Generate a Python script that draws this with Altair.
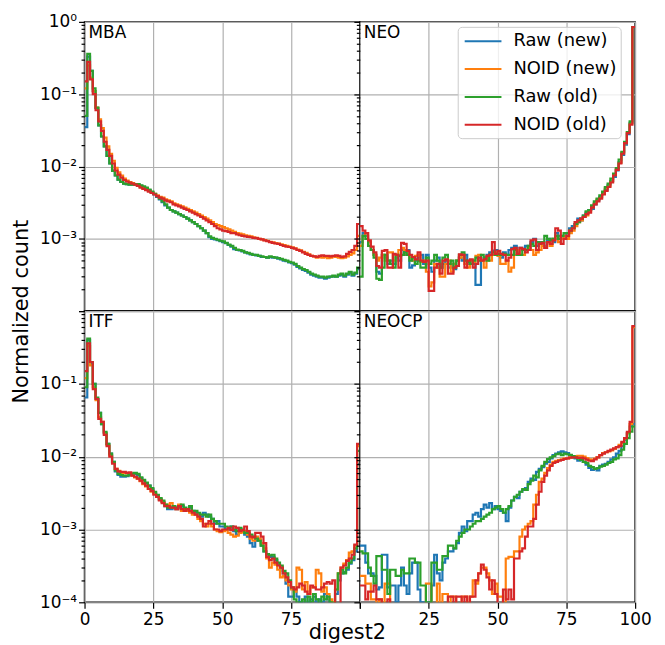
import altair as alt
import pandas as pd

SERIES = ["Raw (new)", "NOID (new)", "Raw (old)", "NOID (old)"]
COLORS = ["#1f77b4", "#ff7f0e", "#2ca02c", "#d62728"]
X_TICKS = [0, 25, 50, 75, 100]
Y_MAJOR = [1e-4, 1e-3, 1e-2, 1e-1, 1.0]
Y_MINOR = [2e-4, 3e-4, 4e-4, 5e-4, 6e-4, 7e-4, 8e-4, 9e-4,
           2e-3, 3e-3, 4e-3, 5e-3, 6e-3, 7e-3, 8e-3, 9e-3,
           2e-2, 3e-2, 4e-2, 5e-2, 6e-2, 7e-2, 8e-2, 9e-2,
           0.2, 0.3, 0.4, 0.5, 0.6, 0.7, 0.8, 0.9]

# ---------------- MBA ----------------
MBA_RAW_NEW = [0.035, 0.33, 0.21, 0.11, 0.064, 0.037, 0.026, 0.019, 0.014, 0.011,
               0.0088, 0.0075, 0.0066, 0.0061, 0.0058, 0.0057, 0.0056, 0.0056, 0.0056, 0.0056,
               0.0054, 0.0052, 0.0050, 0.0047, 0.0044, 0.0041, 0.0038, 0.0035, 0.0032, 0.0029,
               0.0027, 0.0025, 0.0024, 0.0023, 0.0022, 0.0021, 0.0020, 0.0019, 0.0018, 0.0017,
               0.0016, 0.0015, 0.0014, 0.0013, 0.0012, 0.00105, 0.001, 0.00098, 0.00096, 0.00093,
               0.0009, 0.00087, 0.00082, 0.00078, 0.00072, 0.0007, 0.00069, 0.00067, 0.00065, 0.00063,
               0.00061, 0.0006, 0.00059, 0.00058, 0.00056, 0.00056, 0.00055, 0.00056, 0.00055, 0.00055,
               0.00053, 0.00052, 0.0005, 0.00049, 0.00047, 0.00046, 0.00044, 0.00041, 0.00039, 0.00037,
               0.00036, 0.00034, 0.00032, 0.00031, 0.0003, 0.00029, 0.00029, 0.00028, 0.00029, 0.0003,
               0.0003, 0.0003, 0.00031, 0.00032, 0.0003, 0.00032, 0.00034, 0.00031, 0.00033, 0.00038]
MBA_NOID_NEW = [0.12, 0.25, 0.17, 0.11, 0.065, 0.045, 0.034, 0.025, 0.019, 0.015,
                0.012, 0.0096, 0.0083, 0.0075, 0.0068, 0.0064, 0.0061, 0.0059, 0.0057, 0.0055,
                0.0052, 0.0050, 0.0048, 0.0046, 0.0044, 0.0042, 0.0040, 0.0038, 0.0037, 0.0035,
                0.0034, 0.0033, 0.0031, 0.0030, 0.0029, 0.0028, 0.0027, 0.0026, 0.0025, 0.0024,
                0.0023, 0.0022, 0.0021, 0.0020, 0.0019, 0.0018, 0.0017, 0.0016, 0.00155, 0.0015,
                0.00145, 0.0014, 0.00135, 0.0013, 0.00125, 0.0012, 0.00118, 0.00115, 0.00112, 0.0011,
                0.00108, 0.00105, 0.00103, 0.001, 0.00098, 0.00096, 0.00094, 0.00091, 0.00089, 0.00087,
                0.00086, 0.00084, 0.00082, 0.0008, 0.00078, 0.00076, 0.00074, 0.00071, 0.00069, 0.00066,
                0.00064, 0.00061, 0.00058, 0.00057, 0.00055, 0.00056, 0.00055, 0.00056, 0.00054, 0.00055,
                0.00057, 0.00056, 0.00055, 0.00054, 0.00055, 0.00057, 0.0006, 0.00063, 0.0007, 0.0011]
MBA_RAW_OLD = [0.05, 0.36, 0.21, 0.12, 0.065, 0.037, 0.026, 0.019, 0.014, 0.011,
               0.0087, 0.0075, 0.0066, 0.0061, 0.0058, 0.0057, 0.0056, 0.0056, 0.0057, 0.0057,
               0.0055, 0.0053, 0.0051, 0.0048, 0.0045, 0.0042, 0.0039, 0.0036, 0.0033, 0.0030,
               0.0027, 0.0025, 0.0024, 0.0023, 0.0022, 0.0021, 0.0020, 0.0019, 0.0018, 0.0017,
               0.0016, 0.0015, 0.0014, 0.0013, 0.0012, 0.00108, 0.00103, 0.001, 0.00097, 0.00094,
               0.00092, 0.00088, 0.00083, 0.0008, 0.00075, 0.00071, 0.0007, 0.00068, 0.00065, 0.00064,
               0.00062, 0.0006, 0.0006, 0.00058, 0.00057, 0.00056, 0.00055, 0.00057, 0.00056, 0.00055,
               0.00054, 0.00053, 0.00051, 0.0005, 0.00048, 0.00047, 0.00045, 0.00042, 0.0004, 0.00038,
               0.00037, 0.00035, 0.00033, 0.00032, 0.00031, 0.0003, 0.0003, 0.00029, 0.0003, 0.0003,
               0.00031, 0.0003, 0.00032, 0.00033, 0.00031, 0.00033, 0.00035, 0.00032, 0.00034, 0.0004]
MBA_NOID_OLD = [0.15, 0.28, 0.16, 0.10, 0.060, 0.042, 0.031, 0.022, 0.017, 0.014,
                0.011, 0.0088, 0.0077, 0.0070, 0.0065, 0.0062, 0.0060, 0.0058, 0.0056, 0.0054,
                0.0051, 0.0049, 0.0047, 0.0045, 0.0043, 0.0041, 0.0039, 0.0037, 0.0036, 0.0034,
                0.0033, 0.0032, 0.0030, 0.0029, 0.0028, 0.0027, 0.0026, 0.0025, 0.0024, 0.0023,
                0.0022, 0.0021, 0.0020, 0.0019, 0.0018, 0.0017, 0.0016, 0.0015, 0.0014, 0.00135,
                0.0013, 0.00128, 0.00125, 0.0012, 0.0012, 0.00115, 0.00112, 0.0011, 0.00108, 0.00106,
                0.00105, 0.00103, 0.00102, 0.001, 0.00098, 0.00095, 0.00093, 0.0009, 0.00088, 0.00086,
                0.00085, 0.00082, 0.0008, 0.00078, 0.00077, 0.00075, 0.00073, 0.0007, 0.00068, 0.00065,
                0.00062, 0.0006, 0.00058, 0.00057, 0.00056, 0.00058, 0.00059, 0.00058, 0.00058, 0.00057,
                0.00058, 0.00059, 0.00058, 0.00056, 0.00057, 0.00062, 0.00066, 0.0007, 0.0008, 0.0016]

# ---------------- NEO ----------------
NEO_RAW_NEW = [0.0009, 0.0012, 0.0011, 0.0009, 0.0007, 0.0006, 0.00035, 0.00033, 0.0006, 0.00055,
               0.00045, 0.0005, 0.00045, 0.00055, 0.0005, 0.0007, 0.0006, 0.0007, 0.0004, 0.00043,
               0.0005, 0.00055, 0.0006, 0.00045, 0.0006, 0.0004, 0.00035, 0.0005, 0.00055, 0.0004,
               0.00045, 0.0005, 0.0004, 0.00045, 0.00038, 0.0005, 0.00055, 0.0005, 0.0006, 0.00045,
               0.0005, 0.00045, 0.00023, 0.00023, 0.0005, 0.00055, 0.0006, 0.00065, 0.00068, 0.0007,
               0.0006, 0.00055, 0.00065, 0.0006, 0.0007, 0.00075, 0.0008, 0.00065, 0.00075, 0.0007,
               0.0008, 0.00075, 0.0009, 0.001, 0.0008, 0.0009, 0.0009, 0.0008, 0.00095, 0.001,
               0.0009, 0.0012, 0.0011, 0.001, 0.0011, 0.0012, 0.0014, 0.0015, 0.0016, 0.0019,
               0.0018, 0.0021, 0.0023, 0.0025, 0.0026, 0.003, 0.0034, 0.0038, 0.0042, 0.0048,
               0.0055, 0.0063, 0.0072, 0.0088, 0.0115, 0.0145, 0.02, 0.028, 0.04, 0.85]
NEO_NOID_NEW = [0.0008, 0.0011, 0.0012, 0.0009, 0.0007, 0.0006, 0.0005, 0.00055, 0.0006, 0.0005,
                0.00065, 0.00065, 0.0005, 0.0006, 0.0007, 0.00075, 0.0007, 0.0006, 0.00055, 0.0005,
                0.00058, 0.0006, 0.00048, 0.0005, 0.00035, 0.00022, 0.00025, 0.00045, 0.0004, 0.0003,
                0.0003, 0.00045, 0.0005, 0.00035, 0.00045, 0.0005, 0.00055, 0.0006, 0.00045, 0.0004,
                0.0005, 0.00048, 0.00058, 0.0006, 0.0005, 0.0004, 0.00055, 0.0005, 0.0006, 0.00065,
                0.00058, 0.00045, 0.00045, 0.0005, 0.00035, 0.0004, 0.0006, 0.0007, 0.0006, 0.0006,
                0.0007, 0.00075, 0.0007, 0.0006, 0.00065, 0.0007, 0.0008, 0.00075, 0.0009, 0.0008,
                0.001, 0.0011, 0.0009, 0.001, 0.0011, 0.001, 0.0012, 0.0013, 0.0015, 0.0017,
                0.0018, 0.002, 0.0021, 0.0024, 0.0028, 0.0031, 0.0035, 0.0037, 0.0043, 0.005,
                0.0053, 0.0062, 0.0078, 0.0092, 0.0112, 0.0155, 0.021, 0.03, 0.039, 0.85]
NEO_RAW_OLD = [0.0003, 0.0011, 0.001, 0.0008, 0.0007, 0.00055, 0.00028, 0.00027, 0.0004, 0.0006,
               0.0005, 0.00045, 0.0004, 0.0006, 0.00058, 0.0006, 0.00065, 0.0006, 0.0005, 0.00055,
               0.00045, 0.0005, 0.0004, 0.0004, 0.00055, 0.00045, 0.0005, 0.0006, 0.0005, 0.0004,
               0.00055, 0.0006, 0.00045, 0.0005, 0.0004, 0.0005, 0.0006, 0.00065, 0.0005, 0.00048,
               0.00045, 0.0005, 0.00055, 0.0005, 0.0006, 0.00055, 0.0005, 0.0006, 0.00065, 0.0006,
               0.00062, 0.0006, 0.00062, 0.0006, 0.0006, 0.0006, 0.0007, 0.0006, 0.0006, 0.0007,
               0.0007, 0.0008, 0.00085, 0.0008, 0.0009, 0.00085, 0.0009, 0.0011, 0.001, 0.00095,
               0.001, 0.0011, 0.001, 0.0011, 0.0012, 0.0012, 0.0013, 0.0014, 0.0016, 0.0017,
               0.0019, 0.0021, 0.0024, 0.0025, 0.0029, 0.0033, 0.0036, 0.004, 0.0045, 0.0052,
               0.0058, 0.0068, 0.008, 0.0095, 0.0125, 0.016, 0.022, 0.03, 0.042, 0.85]
NEO_NOID_OLD = [0.0015, 0.0013, 0.0012, 0.00095, 0.00078, 0.00065, 0.00042, 0.0004, 0.00068, 0.0007,
                0.0004, 0.0004, 0.00062, 0.0006, 0.0004, 0.00088, 0.00085, 0.00068, 0.0006, 0.00056,
                0.00052, 0.00065, 0.0005, 0.00048, 0.0005, 0.00019, 0.00019, 0.0004, 0.00045, 0.00033,
                0.0005, 0.00052, 0.00033, 0.00033, 0.0004, 0.00042, 0.00061, 0.0006, 0.0004, 0.0005,
                0.00052, 0.0004, 0.00045, 0.00055, 0.0005, 0.00052, 0.00058, 0.0006, 0.0009, 0.00062,
                0.00068, 0.00062, 0.0006, 0.0005, 0.00055, 0.00072, 0.00075, 0.00062, 0.00075, 0.00072,
                0.00065, 0.0007, 0.00095, 0.00098, 0.0007, 0.00085, 0.00088, 0.00075, 0.0009, 0.00085,
                0.00095, 0.0014, 0.0013, 0.00085, 0.001, 0.0011, 0.0013, 0.0014, 0.0017, 0.0018,
                0.0019, 0.002, 0.0022, 0.0023, 0.0027, 0.003, 0.0033, 0.0036, 0.0041, 0.0046,
                0.0052, 0.006, 0.0075, 0.009, 0.011, 0.015, 0.021, 0.029, 0.038, 0.85]

# ---------------- ITF ----------------
ITF_RAW_NEW = [0.065, 0.4, 0.19, 0.1, 0.062, 0.04, 0.028, 0.021, 0.015, 0.011,
               0.0085, 0.0063, 0.0056, 0.0053, 0.0053, 0.0054, 0.0056, 0.0058, 0.0058, 0.0056,
               0.0051, 0.0047, 0.0043, 0.004, 0.0036, 0.0032, 0.0029, 0.0026, 0.0024, 0.0021,
               0.0019, 0.0019, 0.002, 0.0019, 0.002, 0.0021, 0.0019, 0.0018, 0.002, 0.0018,
               0.0017, 0.0016, 0.0015, 0.0017, 0.0016, 0.0015, 0.0014, 0.0012, 0.0013, 0.0011,
               0.0011, 0.001, 0.001, 0.0011, 0.00095, 0.00085, 0.001, 0.00095, 0.00085, 0.0008,
               0.00065, 0.00058, 0.0007, 0.00072, 0.0006, 0.0005, 0.00045, 0.00042, 0.00042, 0.00038,
               0.00033, 0.0003, 0.00025, 0.00018, 0.00012, 0.00012, 0.00015, 0.00012, 0.0001, 0.00009,
               0.00012, 0.0001, 0.00011, 0.00012, 0.00009, 0.00011, 0.0001, 0.00013, 0.00011, 0.00009,
               0.0001, 0.00013, 0.0002, 0.00025, 0.00026, 0.00028, 0.00034, 0.00038, 0.0005, 0.008]
ITF_NOID_NEW = [0.12, 0.33, 0.18, 0.09, 0.06, 0.035, 0.03, 0.021, 0.0145, 0.0105,
                0.0082, 0.0068, 0.0064, 0.006, 0.006, 0.0059, 0.0058, 0.0055, 0.0052, 0.005,
                0.0046, 0.0042, 0.0039, 0.0036, 0.0033, 0.0031, 0.0028, 0.0026, 0.0024, 0.0022,
                0.0022, 0.0023, 0.002, 0.0019, 0.0022, 0.0018, 0.0019, 0.0018, 0.0017, 0.0016,
                0.0016, 0.0014, 0.0013, 0.0012, 0.0011, 0.0012, 0.0011, 0.001, 0.00095, 0.00092,
                0.00095, 0.00098, 0.0009, 0.00085, 0.0008, 0.00082, 0.0009, 0.00092, 0.00095, 0.00085,
                0.00075, 0.0007, 0.0008, 0.00075, 0.00065, 0.00055, 0.0004, 0.0003, 0.00035, 0.00033,
                0.00028, 0.00022, 0.00023, 0.0002, 0.00017, 0.00015, 0.00014, 0.0003, 0.00028, 0.00015,
                0.00019, 0.00013, 0.00016, 0.00016, 0.00028, 0.00025, 0.00014, 0.00016, 0.00013, 0.00011,
                0.0001, 0.00015, 0.00025, 0.0003, 0.00034, 0.00038, 0.00048, 0.0005, 0.0006, 0.014]
ITF_RAW_OLD = [0.09, 0.42, 0.2, 0.1, 0.065, 0.04, 0.028, 0.022, 0.015, 0.011,
               0.0085, 0.0065, 0.0058, 0.0056, 0.0055, 0.0055, 0.0057, 0.0059, 0.006, 0.0058,
               0.0052, 0.0048, 0.0044, 0.004, 0.0037, 0.0033, 0.003, 0.0027, 0.0025, 0.0022,
               0.002, 0.002, 0.0021, 0.002, 0.0021, 0.0022, 0.002, 0.0019, 0.0021, 0.0018,
               0.0018, 0.0017, 0.0016, 0.0016, 0.0015, 0.0016, 0.0014, 0.0013, 0.0012, 0.0012,
               0.0012, 0.0011, 0.00105, 0.0011, 0.001, 0.00095, 0.00105, 0.001, 0.0009, 0.0009,
               0.00085, 0.0008, 0.00075, 0.0007, 0.0006, 0.0005, 0.00046, 0.00044, 0.00045, 0.0004,
               0.00035, 0.00032, 0.00027, 0.00025, 0.0002, 0.00016, 0.00011, 0.00009, 0.0001, 0.00011,
               0.00009, 0.00012, 0.0001, 0.00013, 0.00011, 0.00009, 0.00012, 0.00011, 0.00012, 0.0001,
               0.00008, 0.00015, 0.00025, 0.00028, 0.00025, 0.0003, 0.00035, 0.0004, 0.00055, 0.012]
ITF_NOID_OLD = [0.15, 0.36, 0.2, 0.085, 0.062, 0.033, 0.03, 0.02, 0.014, 0.01,
                0.008, 0.0068, 0.0063, 0.0062, 0.0062, 0.006, 0.0061, 0.0055, 0.0053, 0.005,
                0.0047, 0.0043, 0.004, 0.0036, 0.0034, 0.003, 0.0028, 0.0025, 0.0023, 0.0021,
                0.0021, 0.002, 0.002, 0.0019, 0.0021, 0.0019, 0.0018, 0.0019, 0.0018, 0.0017,
                0.0016, 0.0015, 0.0014, 0.0011, 0.0012, 0.0013, 0.0012, 0.001, 0.001, 0.00095,
                0.001, 0.001, 0.00105, 0.00098, 0.0011, 0.00105, 0.00095, 0.00098, 0.0011, 0.00095,
                0.0008, 0.00078, 0.0009, 0.0009, 0.0008, 0.00065, 0.00042, 0.00038, 0.0004, 0.00035,
                0.00032, 0.0003, 0.00025, 0.00022, 0.00019, 0.00016, 0.00015, 0.00016, 0.00018, 0.00017,
                0.00014, 0.00013, 0.00017, 0.00016, 0.00015, 0.00015, 0.00016, 0.00018, 0.00019, 0.00018,
                0.0002, 0.00007, 0.00009, 0.0003, 0.00032, 0.00037, 0.0004, 0.00045, 0.00062, 0.015]

# ---------------- NEOCP ----------------
NEOCP_RAW_NEW = [0.0006, 0.0006, 0.00035, 0.00025, 0.00025, 0.00023, 0.00015, 0.00016, 0.00045, 0.00045,
                 0.00016, 0.00017, 0.00017, 0.0001, 0.00017, 0.0003, 0.00017, 0.00013, 0.00025, 0.00035,
                 0.00035, 0.00015, 0.0001, 0.0001, 0, 0.0001, 0.00017, 0.00045, 0.00025, 0.0002,
                 0.00035, 0.0004, 0.0005, 0.0005, 0.00055, 0.00065, 0.0009, 0.0011, 0.00095, 0.0013,
                 0.0013, 0.0016, 0.0017, 0.0015, 0.0019, 0.0022, 0.002, 0.0023, 0.0019, 0.0021,
                 0.0019, 0.0018, 0.0017, 0.0013, 0.002, 0.0025, 0.0028, 0.0027, 0.0033, 0.0035,
                 0.0037, 0.0045, 0.005, 0.0048, 0.0062, 0.0068, 0.0072, 0.008, 0.0085, 0.0095,
                 0.0105, 0.011, 0.0115, 0.0118, 0.0115, 0.0112, 0.0105, 0.0098, 0.0095, 0.0088,
                 0.0092, 0.0085, 0.0078, 0.007, 0.0066, 0.0068, 0.0065, 0.0075, 0.0078, 0.008,
                 0.0085, 0.0092, 0.0098, 0.011, 0.012, 0.014, 0.017, 0.021, 0.026, 0.028]
NEOCP_NOID_NEW = [0.00023, 0.00023, 0.00018, 0.00018, 0.00011, 0.00011, 0, 0.00011, 0, 0.00018,
                  0.00018, 0, 0, 0, 0, 0, 0, 0, 0, 0,
                  0, 0, 0, 0, 0.00018, 0.00018, 0, 0, 0.00018, 0,
                  0.00013, 0.00013, 0, 0.00012, 0.00012, 0, 0, 0.00012, 0.00012, 0,
                  0.00012, 0.0002, 0.00018, 0.00025, 0.0003, 0.0003, 0.00025, 0.0002, 0.00013, 0.00018,
                  0.00012, 0.00012, 0, 0.0004, 0.00042, 0.00042, 0.0005, 0.0005, 0.0008, 0.001,
                  0.0011, 0.0012, 0.0013, 0.0022, 0.003, 0.0045, 0.005, 0.006, 0.007, 0.0078,
                  0.0085, 0.0088, 0.009, 0.0092, 0.0095, 0.0095, 0.0098, 0.01, 0.0102, 0.0103,
                  0.0103, 0.01, 0.0096, 0.0092, 0.009, 0.0094, 0.0098, 0.0105, 0.0112, 0.0115,
                  0.0118, 0.0122, 0.0128, 0.0135, 0.0145, 0.0155, 0.0175, 0.021, 0.028, 0.6]
NEOCP_RAW_OLD = [0.0005, 0.00047, 0.00047, 0.0003, 0.00023, 0.00018, 0.00043, 0.00043, 0.00028, 0.00028,
                 0.00013, 0.00028, 0.00028, 0.00023, 0.00023, 0.00028, 0.00025, 0.00025, 0.0004, 0.0004,
                 0.00035, 0.00035, 0.00017, 0.00017, 0, 0.0001, 0.00035, 0.00035, 0.00028, 0.00028,
                 0.00043, 0.00043, 0.0006, 0.0006, 0.00055, 0.0007, 0.0008, 0.0009, 0.001, 0.001,
                 0.0011, 0.0012, 0.0013, 0.0013, 0.0014, 0.0015, 0.0016, 0.0017, 0.0019, 0.002,
                 0.0021, 0.0019, 0.0017, 0.0019, 0.0021, 0.0025, 0.0028, 0.003, 0.0033, 0.0036,
                 0.0035, 0.0042, 0.0047, 0.0055, 0.0052, 0.0065, 0.0075, 0.0085, 0.0093, 0.0098,
                 0.0102, 0.0108, 0.011, 0.0105, 0.011, 0.0108, 0.0106, 0.0102, 0.0098, 0.0094,
                 0.009, 0.0085, 0.0082, 0.0075, 0.0072, 0.0068, 0.007, 0.0073, 0.0075, 0.0078,
                 0.0082, 0.0085, 0.0092, 0.0095, 0.0105, 0.0125, 0.015, 0.018, 0.022, 0.026]
NEOCP_NOID_OLD = [0.00017, 0.00017, 0.00011, 0.00014, 0.00014, 0.00017, 0.00011, 0.00011, 0, 0,
                  0.00011, 0, 0, 0, 0, 0, 0, 0, 0, 0,
                  0, 0, 0, 0, 0, 0, 0, 0, 0, 0,
                  0, 0, 0.00012, 0.00012, 0, 0.00012, 0.00012, 0, 0.00012, 0,
                  0.00012, 0.00012, 0.0002, 0.00025, 0.00033, 0.00028, 0.00022, 0.00015, 0.0002, 0.00013,
                  0, 0, 0.00015, 0.00011, 0.00015, 0.00011, 0.0004, 0.0004, 0.0005, 0.00055,
                  0.0008, 0.0011, 0.0011, 0.0014, 0.0022, 0.0033, 0.0045, 0.0055, 0.0065, 0.0075,
                  0.0082, 0.0085, 0.0088, 0.009, 0.0093, 0.0095, 0.0097, 0.0098, 0.0098, 0.0096,
                  0.0097, 0.0095, 0.0091, 0.0088, 0.0087, 0.0092, 0.0098, 0.0105, 0.011, 0.0115,
                  0.012, 0.0125, 0.013, 0.0135, 0.014, 0.016, 0.018, 0.022, 0.03, 0.62]

PANELS = {
    "MBA": [MBA_RAW_NEW, MBA_NOID_NEW, MBA_RAW_OLD, MBA_NOID_OLD],
    "NEO": [NEO_RAW_NEW, NEO_NOID_NEW, NEO_RAW_OLD, NEO_NOID_OLD],
    "ITF": [ITF_RAW_NEW, ITF_NOID_NEW, ITF_RAW_OLD, ITF_NOID_OLD],
    "NEOCP": [NEOCP_RAW_NEW, NEOCP_NOID_NEW, NEOCP_RAW_OLD, NEOCP_NOID_OLD],
}

FLOOR = 1e-7  # empty bins fall off the bottom of the log axis


def panel_frame(lists):
    rows = []
    for name, vals in zip(SERIES, lists):
        ext = list(vals) + [vals[-1]]
        for i, v in enumerate(ext):
            rows.append({"series": name, "edge": i, "count": v if v > 0 else FLOOR})
    return pd.DataFrame(rows)


DEC = "abs(log(datum.value)/LN10 - round(log(datum.value)/LN10)) < 0.01"
LBL_TOP = ("datum.value > 0.99 ? '10⁰' : abs(datum.value-0.1) < 1e-6 ? '10⁻¹' : "
           "abs(datum.value-0.01) < 1e-7 ? '10⁻²' : abs(datum.value-0.001) < 1e-8 ? '10⁻³' : ''")
LBL_BOT = ("abs(datum.value-0.1) < 1e-6 ? '10⁻¹' : abs(datum.value-0.01) < 1e-7 ? '10⁻²' : "
           "abs(datum.value-0.001) < 1e-8 ? '10⁻³' : abs(datum.value-0.0001) < 1e-9 ? '10⁻⁴' : ''")

FONT = "DejaVu Sans"


def y_axis(label_expr=None, title=None, show_labels=True):
    kw = dict(
        values=Y_MAJOR + Y_MINOR, grid=True, gridColor="#b0b0b0", gridWidth=1.2,
        gridOpacity={"condition": {"test": DEC, "value": 1}, "value": 0},
        tickSize={"condition": {"test": DEC, "value": 6}, "value": 3.5},
        tickColor="black", tickWidth=1.2, domain=False, labelOverlap=False,
        labels=show_labels, labelPadding=2,
    )
    if label_expr:
        kw["labelExpr"] = label_expr
    if title:
        kw.update(title=title, titleX=-63, titleY=291, titleAlign="center",
                  titleBaseline="middle", titleAngle=270)
    else:
        kw["title"] = None
    return alt.Axis(**kw)


def x_axis(bottom, hide=None, title=None):
    kw = dict(values=X_TICKS, grid=True, gridColor="#b0b0b0", gridWidth=1.2, domain=False,
              labelFlush=False)
    if bottom:
        kw.update(ticks=True, tickSize=6, tickColor="black", tickWidth=1.2, labels=True,
                  labelPadding=3, labelExpr=f"datum.value == {hide} ? '' : datum.label")
    else:
        kw.update(ticks=False, labels=False)
    if title:
        kw.update(title=title, titleX=264, titleY=36, titleAlign="center",
                  titleBaseline="alphabetic")
    else:
        kw["title"] = None
    return alt.Axis(**kw)


def panel(name, xax, yax, legend, height):
    df = panel_frame(PANELS[name])
    color_kw = dict(scale=alt.Scale(domain=SERIES, range=COLORS))
    if legend:
        color_kw["legend"] = alt.Legend(
            title=None, orient="none", legendX=98.5, legendY=5, padding=4, rowPadding=8,
            labelFont=FONT, labelFontSize=18, labelColor="black", labelLimit=0,
            symbolType="M-2,0H2", symbolSize=342, symbolStrokeWidth=2,
            symbolOffset=11, labelOffset=20,
            strokeColor="#cccccc", fillColor="rgba(255,255,255,0.8)", cornerRadius=4,
        )
    else:
        color_kw["legend"] = None
    lines = alt.Chart(df).mark_line(interpolate="step-after", strokeWidth=2.2, clip=True).encode(
        x=alt.X("edge:Q", scale=alt.Scale(domain=[0, 100], nice=False, zero=False), axis=xax),
        y=alt.Y("count:Q", scale=alt.Scale(type="log", domain=[1e-4, 1], nice=False), axis=yax),
        color=alt.Color("series:N", sort=SERIES, **color_kw),
    )
    label = alt.Chart(pd.DataFrame({"t": [name]})).mark_text(
        align="left", baseline="top", font=FONT, fontSize=17, color="black"
    ).encode(text="t:N", x=alt.value(4), y=alt.value(3))
    return alt.layer(lines, label).properties(width=277, height=height)


mba = panel("MBA", x_axis(False), y_axis(LBL_TOP, title="Normalized count"), False, 291)
neo = panel("NEO", x_axis(False), y_axis(show_labels=False), True, 291)
itf = panel("ITF", x_axis(True, hide=100, title="digest2"), y_axis(LBL_BOT), False, 293)
neocp = panel("NEOCP", x_axis(True, hide=0), y_axis(show_labels=False), False, 293)

chart = alt.concat(mba, neo, itf, neocp, columns=2, spacing=0, bounds="flush").resolve_scale(
    color="independent", x="independent", y="independent"
).properties(
    padding={"left": 2, "top": 2, "right": 5, "bottom": 0}
).configure_view(
    stroke="black", strokeWidth=1.5
).configure_axis(
    labelFont=FONT, titleFont=FONT, labelFontSize=17, titleFontSize=21,
    labelColor="black", titleColor="black", titleFontWeight="normal"
)

chart.save("out.html", embed_options={"renderer": "svg", "actions": False})
